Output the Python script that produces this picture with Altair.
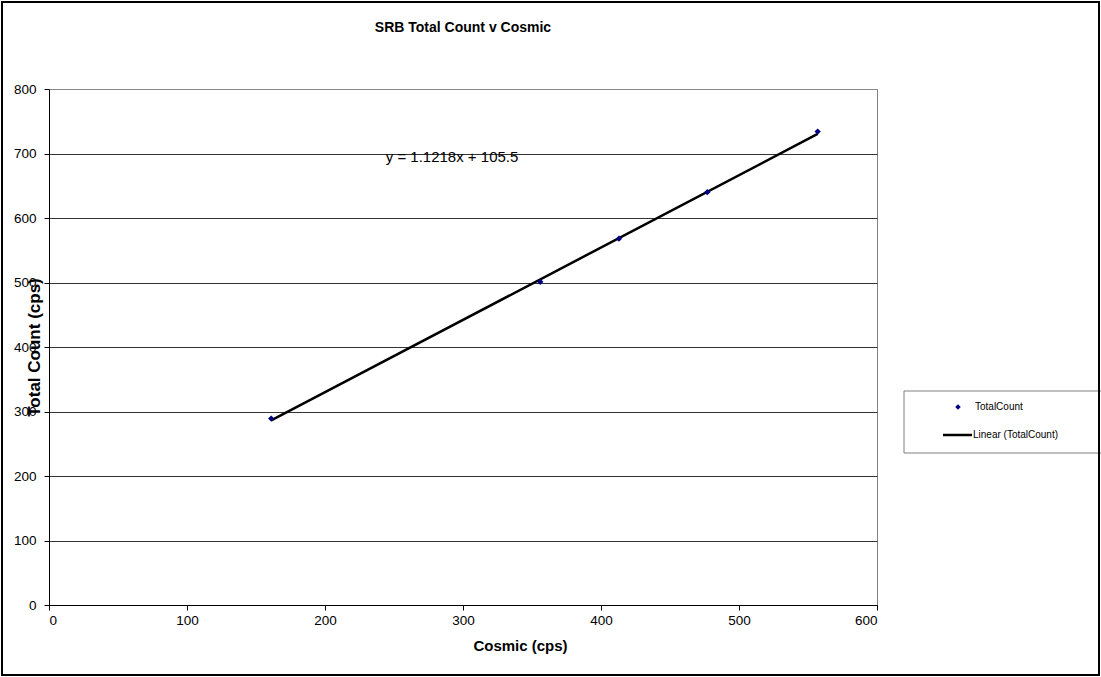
import altair as alt
import pandas as pd

# Measured count rates
cosmic = [161, 356, 413, 477, 557]
total_count = [289, 501, 568, 640, 734]

# Least-squares trendline reported on the chart
slope = 1.1218
intercept = 105.5

FONT = "Liberation Sans"
W, H = 828, 516

points_df = pd.DataFrame({"Cosmic": cosmic, "TotalCount": total_count})
x_lo, x_hi = min(cosmic), max(cosmic)
trend_df = pd.DataFrame({
    "Cosmic": [x_lo, x_hi],
    "TotalCount": [slope * x_lo + intercept, slope * x_hi + intercept],
})
one = pd.DataFrame({"k": [0]})

x_scale = alt.Scale(domain=[0, 600], nice=False, zero=True)
y_scale = alt.Scale(domain=[0, 800], nice=False, zero=True)

x_axis = alt.Axis(
    values=list(range(0, 601, 100)), grid=False, tickSize=5, tickColor="#000",
    domainColor="#000", labelFont=FONT, labelFontSize=13.5, labelColor="#000",
    labelPadding=3, title="Cosmic (cps)", titleFont=FONT, titleFontSize=15,
    titleFontWeight="bold", titleColor="#000", titleX=471, titleY=40,
    titleAlign="center", titleBaseline="middle",
)
y_axis = alt.Axis(
    values=list(range(0, 801, 100)), grid=True,
    gridColor=alt.condition("datum.value == 800", alt.value("#888888"), alt.value("#333333")),
    tickSize=5, tickColor="#000", domainColor="#000",
    labelFont=FONT, labelFontSize=13.5, labelColor="#000", labelPadding=8,
    title="Total Count (cps)", titleFont=FONT, titleFontSize=17,
    titleFontWeight="bold", titleColor="#000", titleX=-15, titleY=H / 2,
    titleAngle=270, titleAlign="center", titleBaseline="middle",
)

trend = alt.Chart(trend_df).mark_line(color="#000", strokeWidth=2.5).encode(
    x=alt.X("Cosmic:Q", scale=x_scale, axis=x_axis),
    y=alt.Y("TotalCount:Q", scale=y_scale, axis=y_axis),
)

pts = alt.Chart(points_df).mark_point(
    shape="diamond", filled=True, color="#000080", size=40, opacity=1
).encode(
    x=alt.X("Cosmic:Q", scale=x_scale),
    y=alt.Y("TotalCount:Q", scale=y_scale),
)

equation = alt.Chart(pd.DataFrame({"Cosmic": [244], "TotalCount": [695],
                                   "label": [f"y = {slope}x + {intercept}"]})).mark_text(
    align="left", baseline="middle", font=FONT, fontSize=15, color="#000"
).encode(
    x=alt.X("Cosmic:Q", scale=x_scale),
    y=alt.Y("TotalCount:Q", scale=y_scale),
    text="label:N",
)

title = alt.Chart(one).mark_text(
    font=FONT, fontSize=14, fontWeight="bold", color="#000", baseline="middle"
).encode(x=alt.value(W / 2), y=alt.value(-61), text=alt.value("SRB Total Count v Cosmic"))

# Legend panel to the right of the plot
legend_box = alt.Chart(one).mark_rect(fill="white", stroke="#808080", strokeWidth=1).encode(
    x=alt.value(855), x2=alt.value(1060), y=alt.value(302), y2=alt.value(364)
)
legend_pt = alt.Chart(one).mark_point(
    shape="diamond", filled=True, color="#000080", size=30, opacity=1
).encode(x=alt.value(909), y=alt.value(318))
legend_pt_label = alt.Chart(one).mark_text(
    align="left", baseline="middle", font=FONT, fontSize=10, color="#000"
).encode(x=alt.value(926), y=alt.value(318), text=alt.value("TotalCount"))
legend_line = alt.Chart(one).mark_rule(color="#000", strokeWidth=2.5).encode(
    x=alt.value(894), x2=alt.value(923), y=alt.value(346)
)
legend_line_label = alt.Chart(one).mark_text(
    align="left", baseline="middle", font=FONT, fontSize=10, color="#000"
).encode(x=alt.value(924), y=alt.value(346), text=alt.value("Linear (TotalCount)"))

frame = alt.Chart(one).mark_rect(fill=None, stroke="#000", strokeWidth=2).encode(
    x=alt.value(-47), x2=alt.value(1050), y=alt.value(-87), y2=alt.value(586)
)

chart = alt.layer(
    trend, pts, equation, title,
    legend_box, legend_pt, legend_pt_label, legend_line, legend_line_label, frame,
).properties(
    width=W, height=H,
    autosize=alt.AutoSizeParams(type="none"),
    padding={"left": 49, "top": 89, "right": 224, "bottom": 72},
    background="white",
).configure_view(stroke="#808080", strokeWidth=1)

chart.save("out.html", embed_options={"renderer": "svg", "actions": False})
